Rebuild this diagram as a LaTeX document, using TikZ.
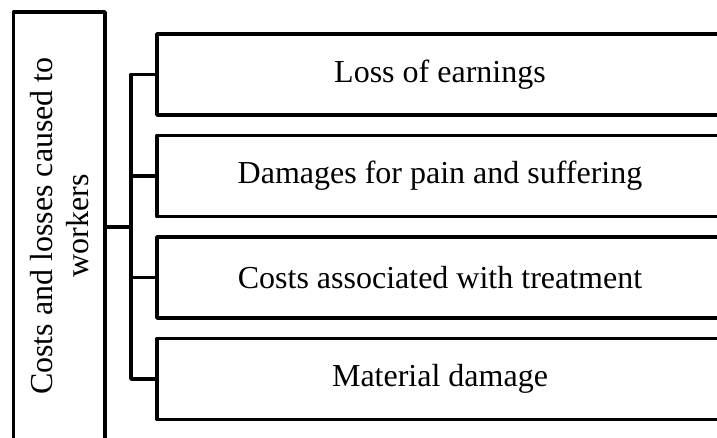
\documentclass[tikz,border=0pt]{standalone}
\usepackage{fontspec}
\setmainfont{Liberation Serif}
\usepackage{tikz}
\usetikzlibrary{positioning}

\tikzset{
  costbox/.style={draw, line width=3.8pt, line join=round, outer sep=0pt,
    inner sep=0pt, align=center, font=\fontsize{32}{36}\selectfont},
  itembox/.style={costbox, minimum width=566pt, minimum height=81pt},
  bus/.style={line width=3.8pt, line join=round}
}

\begin{document}
\begin{tikzpicture}[x=1pt, y=-1pt]
\clip (0,0) rectangle (717,437);

% left box, text runs bottom to top
\node[costbox, rotate=90, minimum width=428pt, minimum height=91.5pt]
  (costs) at (59.25,226) {Costs and losses caused to\\workers};

% items on the right
\node[itembox] (earnings) at (440,74.5) {Loss of earnings};
\node[itembox, below=20.5pt of earnings] (pain) {Damages for pain and suffering};
\node[itembox, below=20.5pt of pain] (treatment) {Costs associated with treatment};
\node[itembox, below=20.5pt of treatment] (material) {Material damage};

% connectors (costs.south is the right side of the rotated box)
\coordinate (split) at (131,227);
\draw[bus] (costs.south |- split) -- (split);
\foreach \n in {earnings,pain,treatment,material} {
    \draw[bus] (\n.west) -| (split);
}
\end{tikzpicture}
\end{document}
